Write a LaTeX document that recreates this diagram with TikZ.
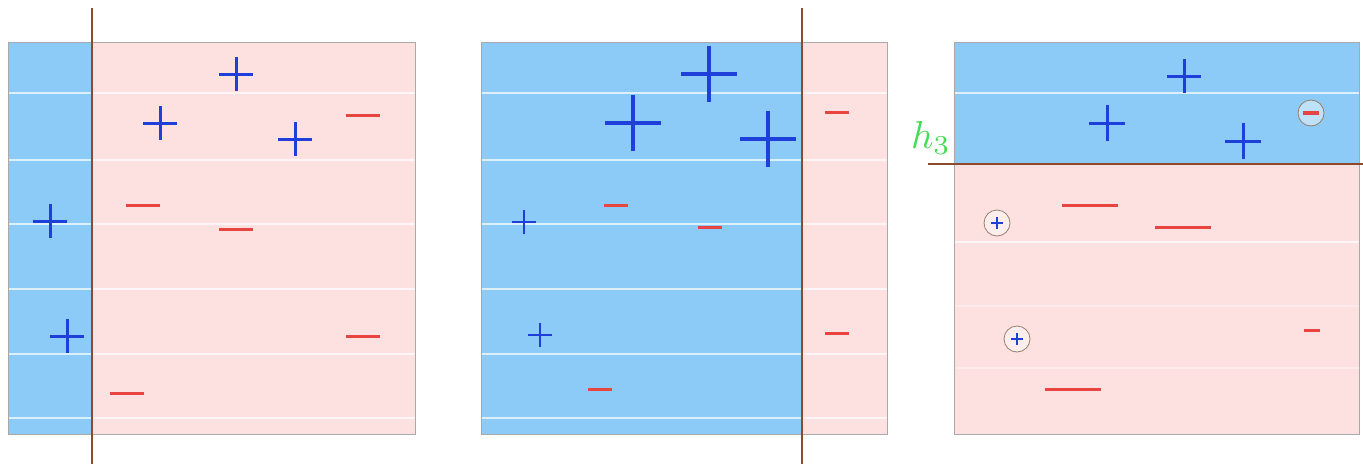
\documentclass[tikz,border=0pt]{standalone}
\usepackage{tikz}
\definecolor{bluereg}{HTML}{8CCBF7}
\definecolor{pinkreg}{HTML}{FDE1E1}
\definecolor{plusblue}{HTML}{1F3FDB}
\definecolor{minusred}{HTML}{E84440}
\definecolor{sepbrown}{HTML}{8E4A2C}
\definecolor{boxgray}{HTML}{A9A9A9}
\definecolor{hgreen}{HTML}{44DD55}
\tikzset{
  posmark/.style={draw=plusblue, line width=3pt},
  negmark/.style={draw=minusred, line width=3pt},
  sepline/.style={draw=sepbrown, line width=2pt},
  framebox/.style={draw=boxgray, line width=0.8pt},
  gridrule/.style={draw=white, line width=1.2pt, opacity=0.7},
  ringmark/.style={draw=gray!70!brown, line width=0.8pt, fill=white, fill opacity=0.45}
}
\newcommand\plusat[4][posmark]{\draw[#1] (#2-#4,#3) -- (#2+#4,#3) (#2,#3-#4) -- (#2,#3+#4);}
\newcommand\minusat[4][negmark]{\draw[#1] (#2-#4,#3) -- (#2+#4,#3);}
\begin{document}
\begin{tikzpicture}[x=1pt,y=-1pt]
\useasboundingbox (0,0) rectangle (1363,464);
% ---------- panel 1 ----------
\fill[bluereg] (8,42) rectangle (92,434);
\fill[pinkreg] (92,42) rectangle (415,434);
\foreach \yy in {93,160,224,289,354,418} \draw[gridrule] (8,\yy) -- (415,\yy);
\draw[framebox] (8,42) rectangle (415,434);
\draw[sepline] (92,8) -- (92,464);
\plusat{236}{74}{17}
\plusat{160}{123}{17}
\plusat{295}{139}{17}
\minusat{363}{115}{17}
\plusat{50}{221}{17}
\minusat{143}{205}{17}
\minusat{236}{229}{17}
\plusat{67}{336}{17}
\minusat{363}{336}{17}
\minusat{127}{393}{17}
% ---------- panel 2 ----------
\fill[bluereg] (481,42) rectangle (802,434);
\fill[pinkreg] (802,42) rectangle (887,434);
\foreach \yy in {93,160,224,289,354,418} \draw[gridrule] (481,\yy) -- (887,\yy);
\draw[framebox] (481,42) rectangle (887,434);
\draw[sepline] (802,8) -- (802,464);
\plusat[posmark,line width=3.5pt]{709}{74}{28}
\plusat[posmark,line width=3.5pt]{633}{123}{28}
\plusat[posmark,line width=3.5pt]{768}{139}{28}
\minusat{837}{112}{12}
\plusat[posmark,line width=2.5pt]{524}{222}{12}
\minusat{616}{205}{12}
\minusat{710}{227}{12}
\plusat[posmark,line width=2.5pt]{540}{335}{12}
\minusat{600}{389}{12}
\minusat{837}{333}{12}
% ---------- panel 3 ----------
\fill[bluereg] (954,42) rectangle (1359,164);
\fill[pinkreg] (954,164) rectangle (1359,434);
\draw[gridrule] (954,93) -- (1359,93);
\draw[gridrule] (954,242) -- (1359,242);
\foreach \yy in {306,368} \draw[gridrule, opacity=0.35] (954,\yy) -- (1359,\yy);
\draw[framebox] (954,42) rectangle (1359,434);
\draw[sepline] (928,164) -- (1363,164);
\node[text=hgreen, inner sep=0pt] (h3) at (931,138) {\scalebox{3.9}{$h_3$}};
\plusat{1184}{76}{17}
\plusat{1107}{123}{18}
\plusat{1243}{141}{18}
\draw[ringmark] (1311,113) circle (13);
\minusat[negmark,line width=3.5pt]{1311}{113}{8}
\draw[ringmark] (997,223) circle (13);
\plusat[posmark,line width=2.5pt]{997}{223}{6}
\draw[ringmark] (1017,339) circle (13);
\plusat[posmark,line width=2.5pt]{1017}{339}{6}
\minusat{1090}{205}{28}
\minusat{1183}{227}{28}
\minusat{1312}{330}{8}
\minusat{1073}{389}{28}
\end{tikzpicture}
\end{document}
